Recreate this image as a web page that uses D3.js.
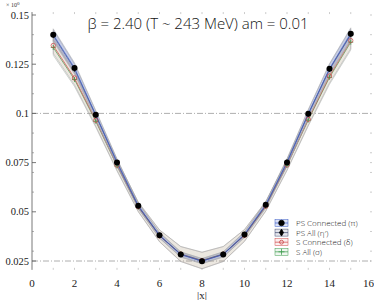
<!DOCTYPE html>
<html>
<head>
<meta charset="utf-8">
<script src="https://cdn.jsdelivr.net/npm/d3@7"></script>
<style>
  body { margin: 0; background: #fff; }
  text { font-family: "Liberation Serif", serif; }
</style>
</head>
<body>
<svg id="chart" width="374" height="300"></svg>
<script>
var xs = [1, 2, 3, 4, 5, 6, 7, 8, 9, 10, 11, 12, 13, 14, 15];
var psConnected = [0.1400, 0.1231, 0.0993, 0.0751, 0.0531, 0.0381, 0.0283, 0.0249, 0.0283, 0.0385, 0.0536, 0.0750, 0.0998, 0.1227, 0.1405];
var psAll = [0.1395, 0.1225, 0.0990, 0.0750, 0.0530, 0.0380, 0.0283, 0.0250, 0.0284, 0.0383, 0.0533, 0.0752, 0.0995, 0.1224, 0.1400];
var sConnected = [0.1345, 0.1180, 0.0965, 0.0737, 0.0526, 0.0378, 0.0285, 0.0252, 0.0285, 0.0380, 0.0528, 0.0738, 0.0970, 0.1190, 0.1370];
var sAll = [0.1335, 0.1172, 0.0960, 0.0733, 0.0524, 0.0378, 0.0286, 0.0253, 0.0286, 0.0380, 0.0527, 0.0736, 0.0966, 0.1183, 0.1362];
var psErr = [0.0030, 0.0026, 0.0022, 0.0018, 0.0015, 0.0014, 0.0013, 0.0013, 0.0013, 0.0014, 0.0015, 0.0018, 0.0022, 0.0026, 0.0030];
var sErr = [0.0040, 0.0035, 0.0030, 0.0026, 0.0024, 0.0030, 0.0038, 0.0042, 0.0038, 0.0030, 0.0024, 0.0026, 0.0030, 0.0035, 0.0040];
var xTicks = [0, 2, 4, 6, 8, 10, 12, 14, 16];
var yTicks = [0.025, 0.05, 0.075, 0.1, 0.125, 0.15];
var yMinor = [0.03, 0.04, 0.06, 0.07, 0.08, 0.09, 0.11, 0.12, 0.13, 0.14];
var refLines = [0.1, 0.025];
var legendLabels = ["PS Connected (\u03c0)", "PS All (\u03b7\u2032)", "S Connected (\u03b4)", "S All (\u03c3)"];

var svg = d3.select("#chart");
var x = d3.scaleLinear().domain([0, 16]).range([32, 372]);
var y = d3.scaleLinear().domain([0.025, 0.15]).range([261, 15]);

var series = [
  { name: legendLabels[0], vals: psConnected, err: psErr, col: "#3a5cc8", fill: "rgba(90,120,210,0.22)" },
  { name: legendLabels[1], vals: psAll, err: psErr, col: "#404a70", fill: "rgba(80,90,130,0.15)" },
  { name: legendLabels[2], vals: sConnected, err: sErr, col: "#d04848", fill: "rgba(220,100,100,0.10)" },
  { name: legendLabels[3], vals: sAll, err: sErr, col: "#3c9c4c", fill: "rgba(90,170,100,0.10)" }
];

// reference dash-dot lines
svg.selectAll("line.ref").data(refLines).enter().append("line")
  .attr("class", "ref")
  .attr("x1", x(0)).attr("x2", x(16))
  .attr("y1", function (d) { return y(d); }).attr("y2", function (d) { return y(d); })
  .attr("stroke", "#999").attr("stroke-width", 0.8)
  .attr("stroke-dasharray", "6,2,1,2");

// error bands
var band = d3.area()
  .x(function (d) { return x(d.x); })
  .y0(function (d) { return y(d.v - d.e); })
  .y1(function (d) { return y(d.v + d.e); });
var line = d3.line()
  .x(function (d) { return x(d.x); })
  .y(function (d) { return y(d.v); });

series.slice().reverse().forEach(function (s) {
  var pts = xs.map(function (xv, i) { return { x: xv, v: s.vals[i], e: s.err[i] }; });
  svg.append("path").datum(pts).attr("d", band)
    .attr("fill", s.fill).attr("stroke", "#aaa").attr("stroke-width", 0.5);
  svg.append("path").datum(pts).attr("d", line)
    .attr("fill", "none").attr("stroke", s.col).attr("stroke-width", 0.7);
});

// markers
svg.selectAll("path.sall").data(xs).enter().append("path")
  .attr("transform", function (d, i) { return "translate(" + x(d) + "," + y(sAll[i]) + ")"; })
  .attr("d", "M-2.5,0H2.5M0,-2.5V2.5")
  .attr("stroke", "#3c9c4c").attr("stroke-width", 0.8);
svg.selectAll("circle.scon").data(xs).enter().append("circle")
  .attr("cx", function (d) { return x(d); })
  .attr("cy", function (d, i) { return y(sConnected[i]); })
  .attr("r", 2.2).attr("fill", "none").attr("stroke", "#c84040").attr("stroke-width", 0.7);
svg.selectAll("path.psall").data(xs).enter().append("path")
  .attr("transform", function (d, i) { return "translate(" + x(d) + "," + y(psAll[i]) + ")"; })
  .attr("d", "M-2.5,0H2.5M0,-2.5V2.5")
  .attr("stroke", "#111").attr("stroke-width", 1);
svg.selectAll("circle.pscon").data(xs).enter().append("circle")
  .attr("cx", function (d) { return x(d); })
  .attr("cy", function (d, i) { return y(psConnected[i]); })
  .attr("r", 3).attr("fill", "#000");

// left axis
svg.append("line").attr("x1", x(0)).attr("x2", x(0))
  .attr("y1", y(0.1515)).attr("y2", y(0.0205))
  .attr("stroke", "#555").attr("stroke-width", 0.8);
svg.selectAll("line.ytick").data(yTicks).enter().append("line")
  .attr("x1", x(0)).attr("x2", x(0) + 4)
  .attr("y1", function (d) { return y(d); }).attr("y2", function (d) { return y(d); })
  .attr("stroke", "#555").attr("stroke-width", 0.8);
svg.selectAll("line.yminor").data(yMinor).enter().append("line")
  .attr("x1", x(0)).attr("x2", x(0) + 2)
  .attr("y1", function (d) { return y(d); }).attr("y2", function (d) { return y(d); })
  .attr("stroke", "#777").attr("stroke-width", 0.6);
// right side ticks
svg.selectAll("line.rtick").data(yTicks.concat(yMinor)).enter().append("line")
  .attr("x1", x(16) - 2).attr("x2", x(16))
  .attr("y1", function (d) { return y(d); }).attr("y2", function (d) { return y(d); })
  .attr("stroke", "#aaa").attr("stroke-width", 0.6);
svg.selectAll("text.ylab").data(yTicks).enter().append("text")
  .attr("x", x(0) - 3).attr("y", function (d) { return y(d) + 3.5; })
  .attr("text-anchor", "end").attr("font-size", 10.5).attr("fill", "#222")
  .text(function (d) { return +d.toFixed(3); });
svg.append("text").attr("x", 6).attr("y", 7).attr("font-size", 6).attr("fill", "#333")
  .text("\u00d7 10").append("tspan").attr("dy", -2).attr("font-size", 5).text("0");

// bottom / top ticks
var xMinor = d3.range(1, 16, 1);
svg.selectAll("line.xtick").data(xMinor).enter().append("line")
  .attr("x1", function (d) { return x(d); }).attr("x2", function (d) { return x(d); })
  .attr("y1", y(0.0205)).attr("y2", y(0.0205) - 2)
  .attr("stroke", "#aaa").attr("stroke-width", 0.6);
svg.selectAll("line.xtop").data(xMinor).enter().append("line")
  .attr("x1", function (d) { return x(d); }).attr("x2", function (d) { return x(d); })
  .attr("y1", y(0.1515)).attr("y2", y(0.1515) + 2)
  .attr("stroke", "#aaa").attr("stroke-width", 0.6);
svg.selectAll("text.xlab").data(xTicks).enter().append("text")
  .attr("x", function (d) { return d === 16 ? 374 : x(d); }).attr("y", 287)
  .attr("text-anchor", function (d) { return d === 16 ? "end" : "middle"; })
  .attr("font-size", 11).attr("fill", "#222")
  .text(function (d) { return d; });
svg.append("text").attr("x", x(8)).attr("y", 299)
  .attr("text-anchor", "middle").attr("font-size", 11).attr("fill", "#222").text("|x|");

// title
svg.append("text").attr("x", 198).attr("y", 29)
  .attr("text-anchor", "middle").attr("font-size", 15).attr("fill", "#111")
  .style("font-family", "'Open Sans', sans-serif").style("font-weight", 300)
  .text("\u03b2 = 2.40 (T ~ 243 MeV) am = 0.01");

// legend
var lg = svg.append("g").attr("transform", "translate(275,223)");
var rows = lg.selectAll("g").data(series).enter().append("g")
  .attr("transform", function (d, i) { return "translate(0," + (i * 9.6) + ")"; });
rows.append("rect").attr("x", 0).attr("y", -3.5).attr("width", 13).attr("height", 7)
  .attr("fill", function (d) { return d.fill; })
  .attr("stroke", function (d) { return d.col; }).attr("stroke-width", 0.5);
rows.append("line").attr("x1", 0).attr("x2", 13).attr("y1", 0).attr("y2", 0)
  .attr("stroke", function (d) { return d.col; }).attr("stroke-width", 0.7);
rows.append("path").attr("transform", "translate(6.5,0)")
  .attr("d", function (d, i) {
    if (i === 0) return d3.symbol(d3.symbolCircle, 24)();
    if (i === 1) return d3.symbol(d3.symbolDiamond, 14)();
    if (i === 2) return d3.symbol(d3.symbolCircle, 12)();
    return "M-3,0H3M0,-3V3";
  })
  .attr("fill", function (d, i) { return i < 2 ? "#000" : "none"; })
  .attr("stroke", function (d, i) { return i < 2 ? "#000" : (i === 2 ? "#c84040" : "#3c9c4c"); })
  .attr("stroke-width", 0.8);
rows.append("text").attr("x", 21).attr("y", 3)
  .attr("font-size", 8).attr("fill", "#222")
  .style("font-family", "'Open Sans', sans-serif").style("font-weight", 300)
  .text(function (d) { return d.name; });
</script>
</body>
</html>
